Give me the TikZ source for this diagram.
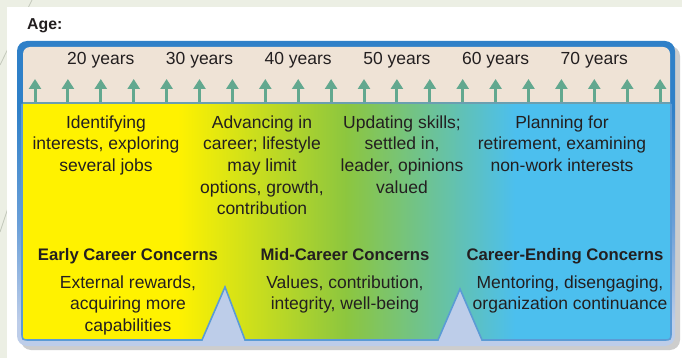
\documentclass[tikz,border=0pt]{standalone}
\usepackage{fontspec}
\setmainfont{Liberation Sans}
\usetikzlibrary{arrows.meta}
\definecolor{slidebg}{HTML}{ECEFE4}
\definecolor{slideline}{HTML}{C4C9BC}
\definecolor{shadowgray}{HTML}{CDCDCD}
\definecolor{darkblue}{HTML}{2F80C8}
\definecolor{midblue}{HTML}{6A9FD8}
\definecolor{lightblue}{HTML}{BDCDE9}
\definecolor{beige}{HTML}{EFE3D6}
\definecolor{sepline}{HTML}{6A9FB0}
\definecolor{panelline}{HTML}{5B9BD5}
\definecolor{arrowteal}{HTML}{62A88F}
\definecolor{cyel}{HTML}{FFF200}
\definecolor{cgrn}{HTML}{8CC63F}
\definecolor{cblu}{HTML}{4CBFEE}
\definecolor{ink}{HTML}{231F20}
\pgfdeclarehorizontalshading{career}{100bp}{color(0bp)=(cyel); color(37bp)=(cyel); color(50bp)=(cgrn); color(63bp)=(cblu); color(100bp)=(cblu)}
\pgfdeclareverticalshading{outershade}{100bp}{color(0bp)=(lightblue); color(29bp)=(lightblue); color(45bp)=(midblue); color(64bp)=(darkblue); color(100bp)=(darkblue)}
\newcommand\bodyfont{\fontsize{17.5}{21.7}\selectfont}
\newcommand\headfont{\fontsize{16.7}{20}\selectfont\bfseries}
\begin{document}
\begin{tikzpicture}[x=1pt,y=-1pt,
  txt/.style={inner sep=0pt, align=center, text=ink, font=\bodyfont},
  headtxt/.style={inner sep=0pt, text=ink, font=\headfont, anchor=base},
  yeartxt/.style={inner sep=0pt, text=ink, font=\bodyfont, anchor=base},
  agearrow/.style={draw=arrowteal, line width=3pt, -{Triangle[width=12pt,length=10pt]}},
  panelrim/.style={draw=panelline, line width=1.6pt, line join=miter}]
\useasboundingbox (0,0) rectangle (682,358);
% slide background
\fill[slidebg] (0,0) rectangle (682,358);
\draw[slideline, line width=0.8pt] (32,0) -- (0,65);
\draw[slideline, line width=0.8pt] (9,205) -- (0,232);
\fill[white] (7,7) rectangle (682,358);
% title
\node[inner sep=0pt, anchor=base west, text=ink, font=\fontsize{15.8}{18}\selectfont\bfseries] (age) at (27,30) {Age:};
% frame
\fill[shadowgray, rounded corners=10pt] (21,46) rectangle (680,350);
\shade[shading=outershade, rounded corners=10pt] (17,41) rectangle (675,346);
\fill[beige, rounded corners=7pt] (23,47) rectangle (670,115);
% notches
\fill[lightblue] (202,340) -- (225,287) -- (245,340) -- cycle;
\fill[lightblue] (438,340) -- (460,289) -- (482,340) -- cycle;
% gradient panel
\shade[shading=career] (22,104) -- (671,104) -- (671,332) .. controls (671,340) .. (663,340)
  -- (482,340) -- (460,289) -- (438,340) -- (245,340) -- (225,287) -- (202,340)
  -- (30,340) .. controls (22,340) .. (22,332) -- cycle;
\draw[panelrim] (671,104) -- (671,332) .. controls (671,340) .. (663,340)
  -- (482,340) -- (460,289) -- (438,340) -- (245,340) -- (225,287) -- (202,340)
  -- (30,340) .. controls (22,340) .. (22,332) -- (22,104);
\draw[sepline, line width=1.5pt] (23,103) -- (670,103);
% arrows
\foreach \i in {0,...,19} {
  \coordinate (ab\i) at ({35+32.9*\i},102);
  \coordinate (at\i) at ({35+32.9*\i},79);
  \draw[agearrow] (ab\i) -- (at\i);
}
% years
\foreach \k/\yr in {0/20,1/30,2/40,3/50,4/60,5/70} {
  \node[yeartxt] (yr\k) at ({35+32.9*(3*\k+2)},65) {\yr\ years};
}
% stage texts
\node[txt, anchor=north] (b1) at (106,115.3) {Identifying\\interests, exploring\\several jobs};
\node[txt, anchor=north] (b2) at (262,115.3) {Advancing in\\career; lifestyle\\may limit\\options, growth,\\contribution};
\node[txt, anchor=north] (b3) at (402,115.3) {Updating skills;\\settled in,\\leader, opinions\\valued};
\node[txt, anchor=north] (b4) at (562,115.3) {Planning for\\retirement, examining\\non-work interests};
% concerns
\node[headtxt] (h1) at (128,260) {Early Career Concerns};
\node[headtxt] (h2) at (345,260) {Mid-Career Concerns};
\node[headtxt] (h3) at (565,260) {Career-Ending Concerns};
\node[txt, anchor=north] (s1) at (128,275.4) {External rewards,\\acquiring more\\capabilities};
\node[txt, anchor=north] (s2) at (345,275.4) {Values, contribution,\\integrity, well-being};
\node[txt, anchor=north] (s3) at (570,275.4) {Mentoring, disengaging,\\organization continuance};
\end{tikzpicture}
\end{document}
